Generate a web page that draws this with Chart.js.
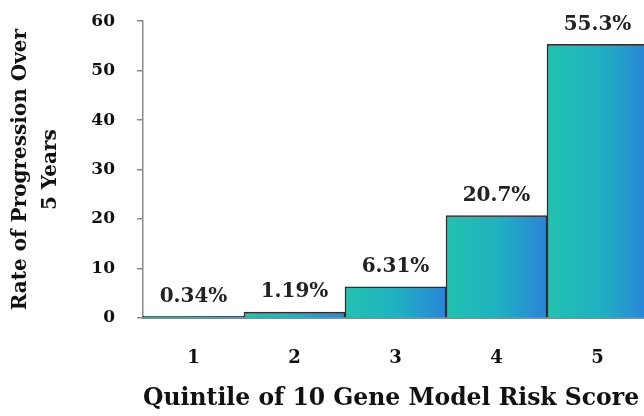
<!DOCTYPE html>
<html>
<head>
<meta charset="utf-8">
<script src="https://cdn.jsdelivr.net/npm/chart.js@4"></script>
<style>
html,body{margin:0;padding:0;background:#fff;overflow:hidden;}
#wrap{width:644px;height:416px;overflow:hidden;position:relative;}
#c{position:absolute;left:0;top:-11px;}
</style>
</head>
<body>
<div id="wrap"><canvas id="c" width="648" height="427"></canvas></div>
<script>
const categories = ['1', '2', '3', '4', '5'];
const rates = [0.34, 1.19, 6.31, 20.7, 55.3];
const rateLabels = ['0.34%', '1.19%', '6.31%', '20.7%', '55.3%'];
const yMin = 0, yMax = 60, yStep = 10;
const xTitle = 'Quintile of 10 Gene Model Risk Score';
const yTitle = ['Rate of Progression Over', '5 Years'];

const FONT = "'DejaVu Serif', serif";
const AXIS_GRAY = '#8a8a8a';

function barGradient(c) {
  const chart = c.chart;
  const xs = chart.scales.x;
  if (!xs || !chart.chartArea) return '#22b8bc';
  const w = xs.width / categories.length;
  const cx = xs.getPixelForValue(c.dataIndex);
  const g = chart.ctx.createLinearGradient(cx - w / 2, 0, cx + w / 2, 0);
  g.addColorStop(0, '#22c2af');
  g.addColorStop(0.5, '#1fb2c0');
  g.addColorStop(1, '#2a84d9');
  return g;
}

const valueLabels = {
  id: 'valueLabels',
  afterDatasetsDraw(chart) {
    const ctx = chart.ctx;
    const meta = chart.getDatasetMeta(0);
    ctx.save();
    ctx.font = 'bold 20px ' + FONT;
    ctx.fillStyle = '#222';
    ctx.textAlign = 'center';
    ctx.textBaseline = 'middle';
    meta.data.forEach((el, i) => {
      ctx.fillText(rateLabels[i], el.x, el.y - 20);
    });
    ctx.restore();
  }
};

new Chart(document.getElementById('c'), {
  type: 'bar',
  data: {
    labels: categories,
    datasets: [{
      data: rates,
      backgroundColor: barGradient,
      borderColor: '#2e2e2e',
      borderWidth: 1.5,
      barPercentage: 1,
      categoryPercentage: 1
    }]
  },
  options: {
    responsive: false,
    animation: false,
    devicePixelRatio: 1,
    layout: { padding: { top: 0, right: 0, left: 0, bottom: 0 } },
    plugins: { legend: { display: false }, tooltip: { enabled: false } },
    scales: {
      x: {
        grid: { display: false, drawTicks: false },
        border: { display: true, color: AXIS_GRAY, width: 2 },
        ticks: { color: '#111', padding: 30, font: { family: FONT, size: 18, weight: 'bold' } },
        title: { display: true, text: xTitle, color: '#111', align: 'start', padding: { top: 0, bottom: 3 },
                 font: { family: FONT, size: 23.5, weight: 'bold', lineHeight: 1.2 } },
        afterFit(s) { s.height = 98; }
      },
      y: {
        min: yMin, max: yMax,
        grid: { display: true, drawOnChartArea: false, drawTicks: true, tickLength: 6, color: AXIS_GRAY, lineWidth: 1.5 },
        border: { display: true, color: AXIS_GRAY, width: 1.5 },
        ticks: { stepSize: yStep, color: '#111', padding: 22, font: { family: FONT, size: 17, weight: 'bold' } },
        title: { display: true, text: yTitle, color: '#111', padding: { top: 6, bottom: 0 },
                 font: { family: FONT, size: 20, weight: 'bold', lineHeight: 1.5 } },
        afterFit(s) { s.width = 143; }
      }
    }
  },
  plugins: [valueLabels]
});
</script>
</body>
</html>
